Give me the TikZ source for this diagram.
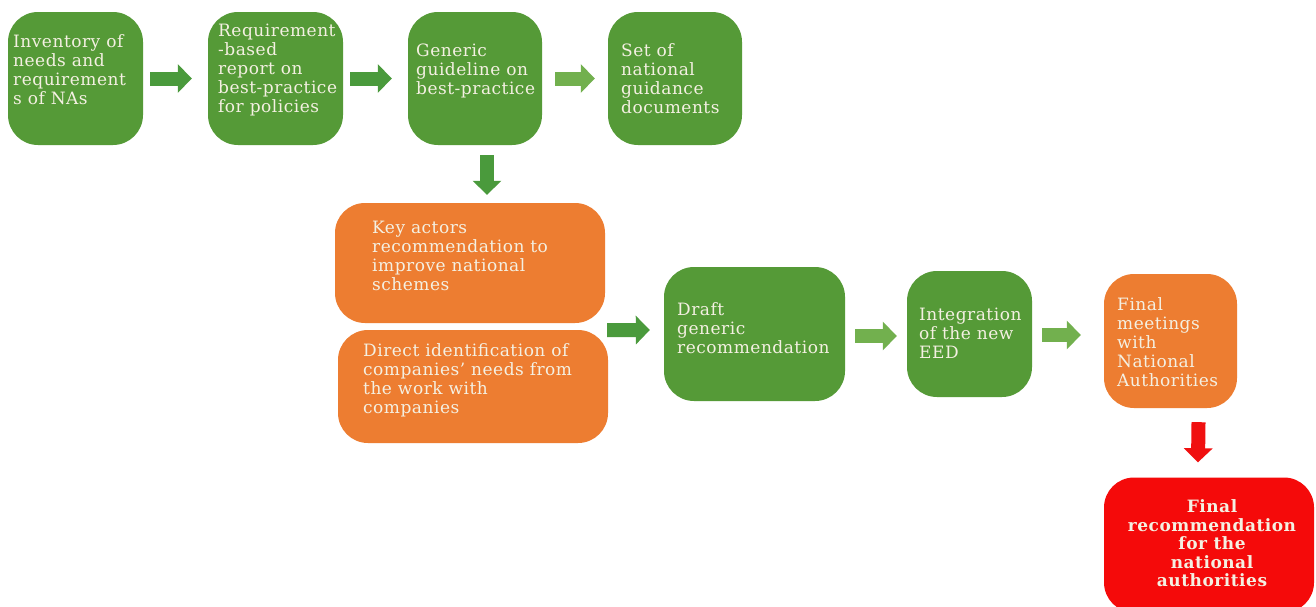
\documentclass[tikz,border=0pt]{standalone}
\usepackage{fontspec}
\setmainfont{DejaVu Serif}[LetterSpace=3]
\usetikzlibrary{arrows.meta}
\definecolor{gfill}{HTML}{559A37}
\definecolor{ofill}{HTML}{ED7D31}
\definecolor{rfill}{HTML}{F50A0A}
\definecolor{adark}{HTML}{4A9A3C}
\definecolor{alight}{HTML}{72B04E}
\definecolor{ared}{HTML}{F01010}
\definecolor{txtc}{HTML}{F4F0E2}
\tikzset{
  boxbase/.style={rounded corners=30pt, inner sep=0pt},
  gbox/.style={boxbase, fill=gfill},
  obox/.style={boxbase, fill=ofill},
  rbox/.style={boxbase, fill=rfill},
  txt/.style={text=txtc, font=\fontsize{17}{19}\selectfont, align=left, inner sep=0pt, anchor=west},
  blockarrow/.style={line width=14pt, -{Triangle[width=28pt,length=14pt]}},
  darkarr/.style={blockarrow, draw=adark},
  lightarr/.style={blockarrow, draw=alight},
  redarr/.style={blockarrow, draw=ared},
}
\begin{document}
\begin{tikzpicture}[x=1pt,y=-1pt]
\useasboundingbox[fill=white] (0,0) rectangle (1316,606);
% boxes
\node[gbox, minimum width=135pt, minimum height=133pt] (b1) at (75.5,78.5) {};
\node[gbox, minimum width=135pt, minimum height=133pt] (b2) at (275.5,78.5) {};
\node[gbox, minimum width=134pt, minimum height=133pt] (b3) at (475,78.5) {};
\node[gbox, minimum width=134pt, minimum height=133pt] (b4) at (675,78.5) {};
\node[obox, minimum width=270pt, minimum height=120pt] (k) at (470,263) {};
\node[obox, minimum width=270pt, minimum height=113pt] (d) at (473,386.5) {};
\node[gbox, minimum width=181pt, minimum height=134pt] (dr) at (754.5,334) {};
\node[gbox, minimum width=125pt, minimum height=126pt] (ig) at (969.5,334) {};
\node[obox, minimum width=133pt, minimum height=134pt] (fm) at (1170.5,341) {};
\node[rbox, minimum width=210pt, minimum height=135pt] (fr) at (1209,545) {};
% texts
\node[txt] (t1) at (13,69.5) {Inventory of\\needs and\\requirement\\s of NAs};
\node[txt] (t2) at (218,70) {Requirement\\-based\\report on\\best-practice\\for policies};
\node[txt] (t3) at (416,71) {Generic\\guideline on\\best-practice};
\node[txt] (t4) at (621,78.5) {Set of\\national\\guidance\\documents};
\node[txt] (tk) at (372,256) {Key actors\\recommendation to\\improve national\\schemes};
\node[txt] (td) at (363,380) {Direct identification of\\companies’ needs from\\the work with\\companies};
\node[txt] (tdr) at (677,328) {Draft\\generic\\recommendation};
\node[txt] (tig) at (919,333) {Integration\\of the new\\EED};
\node[txt] (tfm) at (1117,342) {Final\\meetings\\with\\National\\Authorities};
\node[txt, align=center, anchor=center, font=\fontsize{17}{18.5}\selectfont\bfseries] (tfr) at (1212,543.5) {Final\\recommendation\\for the\\national\\authorities};
% arrows
\draw[darkarr] ([xshift=7pt]b1.east) -- ([xshift=-16pt]b2.west);
\draw[darkarr] ([xshift=7pt]b2.east) -- ([xshift=-16pt]b3.west);
\draw[lightarr] ([xshift=13pt]b3.east) -- ([xshift=-13pt]b4.west);
\draw[darkarr] ([xshift=12pt,yshift=-10pt]b3.south) -- ([xshift=17pt,yshift=8pt]k.north);
\draw[darkarr] ([xshift=2pt,yshift=-7pt]k.south east) -- ([xshift=-14pt,yshift=4pt]dr.west);
\draw[lightarr] ([xshift=10pt,yshift=-2pt]dr.east) -- ([xshift=-10pt,yshift=-2pt]ig.west);
\draw[lightarr] ([xshift=10pt,yshift=-1pt]ig.east) -- ([xshift=-23pt,yshift=6pt]fm.west);
\draw[redarr] ([xshift=28pt,yshift=-14pt]fm.south) -- ([xshift=-11pt,yshift=15pt]fr.north);
\end{tikzpicture}
\end{document}
